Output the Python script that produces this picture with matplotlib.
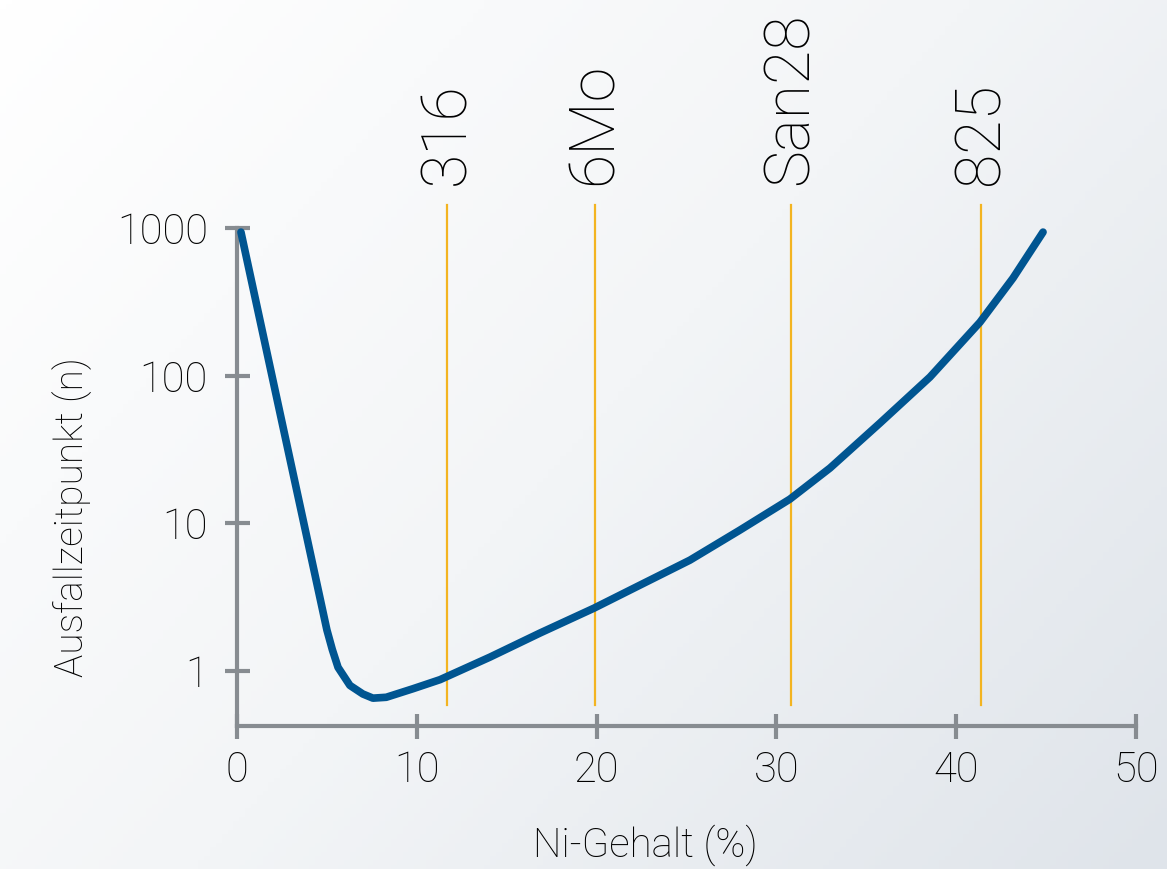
import numpy as np
import matplotlib
matplotlib.use("Agg")
import matplotlib.pyplot as plt
from matplotlib.colors import LinearSegmentedColormap

# Data
ni = [0.22, 2.5, 5.0, 5.3, 5.62, 6.28, 7.0, 7.56, 8.3, 9.79, 11.29, 14.07, 16.85, 19.86,
      22.41, 25.19, 27.97, 30.75, 32.98, 35.76, 38.54, 41.32, 43.16, 44.83]
t  = [938, 48.6, 1.9, 1.40, 1.06, 0.80, 0.70, 0.656, 0.665, 0.76, 0.875, 1.244, 1.81, 2.67,
      3.82, 5.64, 9.01, 14.6, 23.7, 47.8, 97.9, 230, 458, 938]
alloys = ["316", "6Mo", "San28", "825"]
alloy_ni = [11.68, 19.9, 30.8, 41.4]
xticks = [0, 10, 20, 30, 40, 50]
yticks = [1, 10, 100, 1000]
yticklabels = ["1", "10", "100", "1000"]

FONT = ["Roboto", "DejaVu Sans"]
plt.rcParams['font.family'] = FONT
plt.rcParams['font.weight'] = 'light'

fig = plt.figure(figsize=(11.67, 8.69), dpi=100)

# background gradient
bg = fig.add_axes([0, 0, 1, 1], zorder=-10)
yy, xx = np.mgrid[0:1:200j, 0:1:200j]
g = (xx * 0.6 + yy * 0.4)
cmap = LinearSegmentedColormap.from_list("bg", ["#ffffff", "#f3f5f7", "#dfe4ea"])
bg.imshow(g, cmap=cmap, aspect="auto", extent=[0, 1, 0, 1], origin="upper")
bg.axis("off")

ax = fig.add_axes([237/1167, 1 - 726/869, (1136-237)/1167, (726-228)/869])
ax.set_facecolor("none")
ax.set_yscale("log")
ax.set_xlim(0, 50)
ax.set_ylim(0.425, 1000)

for a, xv in zip(alloys, alloy_ni):
    ax.plot([xv, xv], [0.589, 1429], color="#f3b421", lw=1.6, clip_on=False, zorder=2)
    ax.text(xv, 1940, a, rotation=90, ha="center", va="bottom", fontsize=45,
            color="black", fontweight="light")

ax.plot(ni, t, color="#005591", lw=5.5, solid_capstyle="round", solid_joinstyle="round", zorder=3)

spc = "#878c91"
for s in ["top", "right"]:
    ax.spines[s].set_visible(False)
for s in ["left", "bottom"]:
    ax.spines[s].set_color(spc)
    ax.spines[s].set_linewidth(3)

ax.set_xticks(xticks)
ax.set_xticklabels([str(v) for v in xticks])
ax.set_yticks(yticks)
ax.set_yticklabels(yticklabels)
ax.yaxis.set_minor_locator(matplotlib.ticker.NullLocator())
ax.tick_params(axis="both", direction="inout", length=18, width=3, color=spc,
               labelsize=30, labelcolor="black")
ax.tick_params(axis="x", pad=8)
ax.tick_params(axis="y", pad=12)

fig.text(645/1167, 1 - 845/869, "Ni-Gehalt (%)", ha="center", va="center", fontsize=29, color="black")
fig.text(72/1167, 1 - 517/869, "Ausfallzeitpunkt (n)", ha="center", va="center", rotation=90,
         fontsize=28, color="black")

fig.savefig("out.png", dpi=100)
